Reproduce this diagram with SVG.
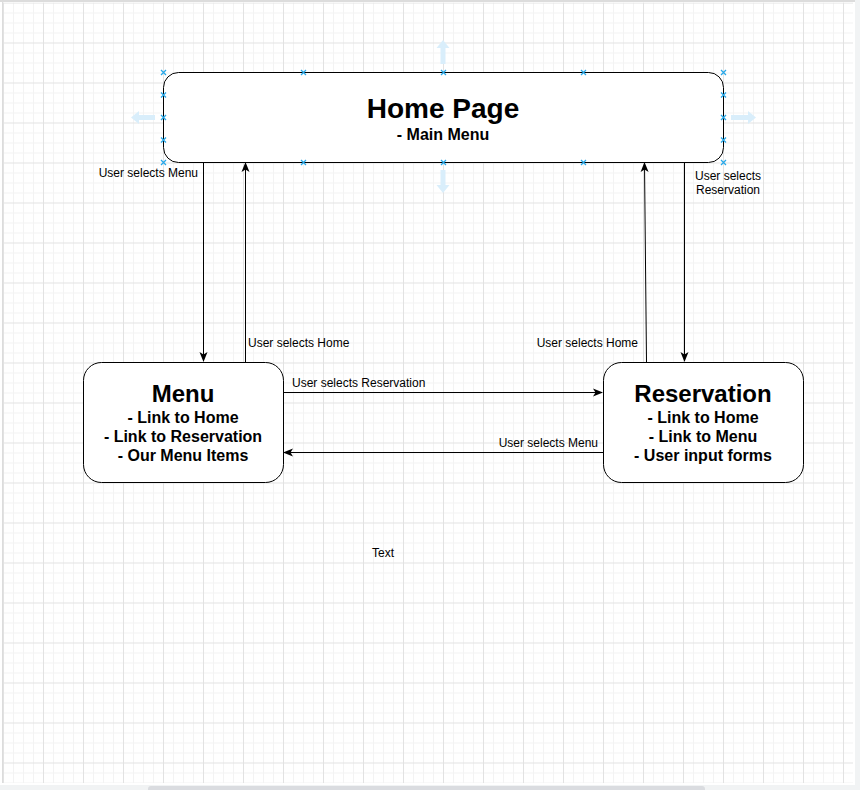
<svg xmlns="http://www.w3.org/2000/svg" width="860" height="790" viewBox="0 0 860 790">
<defs>
<pattern id="grid" patternUnits="userSpaceOnUse" x="3" y="2.5" width="40" height="40">
<path d="M10.5 0V40M20.5 0V40M30.5 0V40M0 10.5H40M0 20.5H40M0 30.5H40" stroke="#f3f3f3" stroke-width="1" fill="none"/>
<path d="M0.5 0V40M0 0.5H40" stroke="#e2e2e2" stroke-width="1" fill="none"/>
</pattern>
<marker id="arr" viewBox="0 0 10 10" refX="9" refY="5" markerWidth="10" markerHeight="10" markerUnits="userSpaceOnUse" orient="auto">
<path d="M0,1 L10,5 L0,9 L2.5,5 Z" fill="#000"/>
</marker>
<g id="hx"><path d="M-2.5,-2.5 L2.5,2.5 M-2.5,2.5 L2.5,-2.5" stroke="#29a8e8" stroke-width="1.3"/></g>
</defs>
<style>
.node{fill:#fff;stroke:#000;stroke-width:1}
.edge{fill:none;stroke:#000;stroke-width:1;marker-end:url(#arr)}
.lbl{font-family:"Liberation Sans",Arial,sans-serif;font-size:12px;fill:#000}
.t1{font-family:"Liberation Sans",Arial,sans-serif;font-weight:bold;fill:#000;text-anchor:middle}
.hover{fill:#d9eefb}
</style>
<rect x="0" y="0" width="860" height="790" fill="#f1f3f4"/>
<rect x="0" y="0" width="855" height="785" fill="#fff"/>
<rect x="3" y="2.5" width="850" height="780.5" fill="url(#grid)"/>
<line x1="2.5" y1="0" x2="2.5" y2="783" stroke="#dcdcdc"/>
<line x1="0" y1="1" x2="855" y2="1" stroke="#dcdcdc" stroke-width="2"/>
<rect x="148" y="786" width="557" height="6" rx="3" fill="#dadce0"/>

<g id="hover-arrows">
<path class="hover" d="M443,40 L449.5,48 L445.5,48 L445.5,64 L440.5,64 L440.5,48 L436.5,48 Z"/>
<path class="hover" d="M443,193 L449.5,185 L445.5,185 L445.5,170 L440.5,170 L440.5,185 L436.5,185 Z"/>
<path class="hover" d="M131,117.5 L139,111 L139,115 L155,115 L155,120 L139,120 L139,124 Z"/>
<path class="hover" d="M756,117.5 L748,111 L748,115 L731,115 L731,120 L748,120 L748,124 Z"/>
</g>

<g id="connectors">
<line class="edge" x1="203.5" y1="162" x2="203.5" y2="361"/>
<line class="edge" x1="245.5" y1="362" x2="245.5" y2="163"/>
<line class="edge" x1="646.5" y1="362" x2="644.5" y2="163"/>
<line class="edge" x1="684.5" y1="162" x2="684.5" y2="361"/>
<line class="edge" x1="283" y1="392.5" x2="602" y2="392.5"/>
<line class="edge" x1="603" y1="452.5" x2="284" y2="452.5"/>
<text class="lbl" x="198" y="177" text-anchor="end">User selects Menu</text>
<text class="lbl" x="248" y="347">User selects Home</text>
<text class="lbl" x="638" y="347" text-anchor="end">User selects Home</text>
<text class="lbl" x="728" y="180" text-anchor="middle">User selects</text>
<text class="lbl" x="728" y="194" text-anchor="middle">Reservation</text>
<text class="lbl" x="292" y="387">User selects Reservation</text>
<text class="lbl" x="598" y="447" text-anchor="end">User selects Menu</text>
</g>

<g id="home">
<rect class="node" x="163.5" y="72.5" width="560" height="90" rx="15"/>
<text class="t1" x="443" y="118" font-size="28">Home Page</text>
<text class="t1" x="443" y="139.5" font-size="16">- Main Menu</text>
<use href="#hx" x="163.5" y="72.5"/><use href="#hx" x="303.5" y="72.5"/><use href="#hx" x="443.5" y="72.5"/><use href="#hx" x="583.5" y="72.5"/><use href="#hx" x="723.5" y="72.5"/>
<use href="#hx" x="163.5" y="162.5"/><use href="#hx" x="303.5" y="162.5"/><use href="#hx" x="443.5" y="162.5"/><use href="#hx" x="583.5" y="162.5"/><use href="#hx" x="723.5" y="162.5"/>
<use href="#hx" x="163.5" y="95"/><use href="#hx" x="163.5" y="117.5"/><use href="#hx" x="163.5" y="140"/>
<use href="#hx" x="723.5" y="95"/><use href="#hx" x="723.5" y="117.5"/><use href="#hx" x="723.5" y="140"/>
</g>

<g id="menu">
<rect class="node" x="83.5" y="362.5" width="200" height="120" rx="18"/>
<text class="t1" x="183" y="402" font-size="24">Menu</text>
<text class="t1" x="183" y="423" font-size="16">- Link to Home</text>
<text class="t1" x="183" y="442" font-size="16">- Link to Reservation</text>
<text class="t1" x="183" y="461" font-size="16">- Our Menu Items</text>
</g>

<g id="reservation">
<rect class="node" x="603.5" y="362.5" width="200" height="120" rx="18"/>
<text class="t1" x="703" y="402" font-size="24">Reservation</text>
<text class="t1" x="703" y="423" font-size="16">- Link to Home</text>
<text class="t1" x="703" y="442" font-size="16">- Link to Menu</text>
<text class="t1" x="703" y="461" font-size="16">- User input forms</text>
</g>

<g id="text">
<text class="lbl" x="383" y="557" text-anchor="middle">Text</text>
</g>
</svg>
